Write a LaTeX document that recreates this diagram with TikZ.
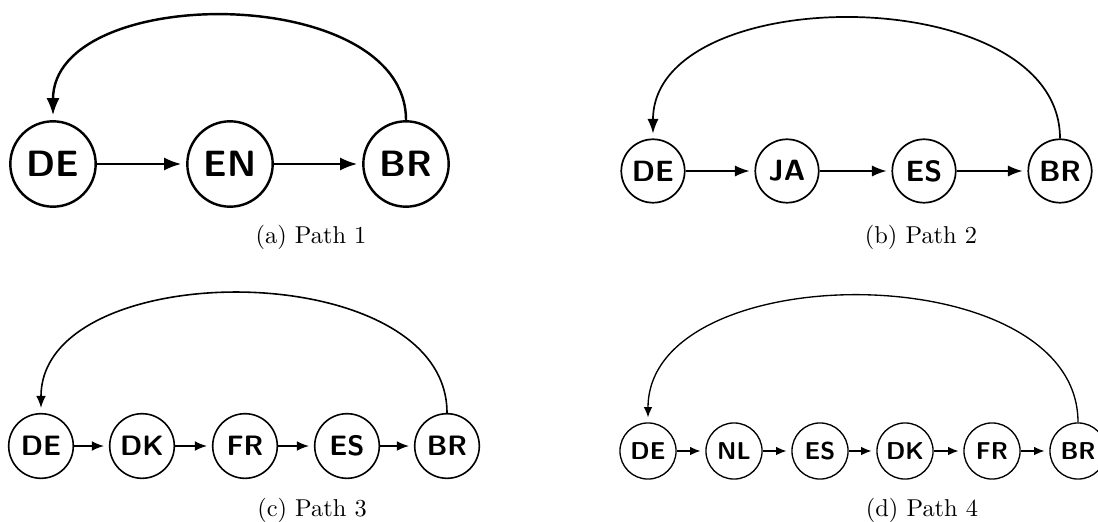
\documentclass[tikz,border=0pt]{standalone}
\usepackage{fontspec}
\usetikzlibrary{arrows.meta}

\begin{document}
\begin{tikzpicture}[x=0.41pt,y=-0.41pt,
    lang/.style={circle,draw,inner sep=0pt},
    hop/.style={->,shorten >=2pt}]
    \useasboundingbox (0,0) rectangle (1098,522);
    % (a) Path 1
    \begin{scope}[line width=1pt,>={Latex[length=7pt,width=5.4pt]},
        lang/.append style={minimum size=35pt,font=\fontsize{15}{18}\sffamily\bfseries}]
    \node[lang] (a1) at (53,164) {DE};
    \node[lang] (a2) at (230,164) {EN};
    \node[lang] (a3) at (406,164) {BR};
    \draw[hop] (a1)--(a2);
    \draw[hop] (a2)--(a3);
    \draw[hop] (a3.north) to[out=90,in=90] (a1.north);
    \end{scope}
    \node (capa) at (311,237) {(a) Path 1};
    % (b) Path 2
    \begin{scope}[line width=0.7pt,>={Latex[length=6pt,width=4.6pt]},
        lang/.append style={minimum size=26pt,font=\fontsize{12}{14}\sffamily\bfseries}]
    \node[lang] (b1) at (653,171) {DE};
    \node[lang] (b2) at (787,171) {JA};
    \node[lang] (b3) at (924,171) {ES};
    \node[lang] (b4) at (1060,171) {BR};
    \draw[hop] (b1)--(b2);
    \draw[hop] (b2)--(b3);
    \draw[hop] (b3)--(b4);
    \draw[hop] (b4.north) to[out=90,in=90] (b1.north);
    \end{scope}
    \node (capb) at (921,237) {(b) Path 2};
    % (c) Path 3
    \begin{scope}[line width=0.65pt,>={Latex[length=5pt,width=4pt]},
        lang/.append style={minimum size=26.5pt,font=\fontsize{11.5}{14}\sffamily\bfseries}]
    \node[lang] (c1) at (41,446) {DE};
    \node[lang] (c2) at (142,446) {DK};
    \node[lang] (c3) at (245,446) {FR};
    \node[lang] (c4) at (347,446) {ES};
    \node[lang] (c5) at (447,446) {BR};
    \draw[hop] (c1)--(c2);
    \draw[hop] (c2)--(c3);
    \draw[hop] (c3)--(c4);
    \draw[hop] (c4)--(c5);
    \draw[hop] (c5.north) to[out=90,in=90] (c1.north);
    \end{scope}
    \node (capc) at (312,510) {(c) Path 3};
    % (d) Path 4
    \begin{scope}[line width=0.55pt,>={Latex[length=4.2pt,width=3.5pt]},
        lang/.append style={minimum size=23pt,font=\fontsize{10}{12}\sffamily\bfseries}]
    \node[lang] (d1) at (648,451) {DE};
    \node[lang] (d2) at (734,451) {NL};
    \node[lang] (d3) at (820,451) {ES};
    \node[lang] (d4) at (905,451) {DK};
    \node[lang] (d5) at (992,451) {FR};
    \node[lang] (d6) at (1078,451) {BR};
    \draw[hop] (d1)--(d2);
    \draw[hop] (d2)--(d3);
    \draw[hop] (d3)--(d4);
    \draw[hop] (d4)--(d5);
    \draw[hop] (d5)--(d6);
    \draw[hop] (d6.north) to[out=90,in=90] (d1.north);
    \end{scope}
    \node (capd) at (922,510) {(d) Path 4};
\end{tikzpicture}
\end{document}
